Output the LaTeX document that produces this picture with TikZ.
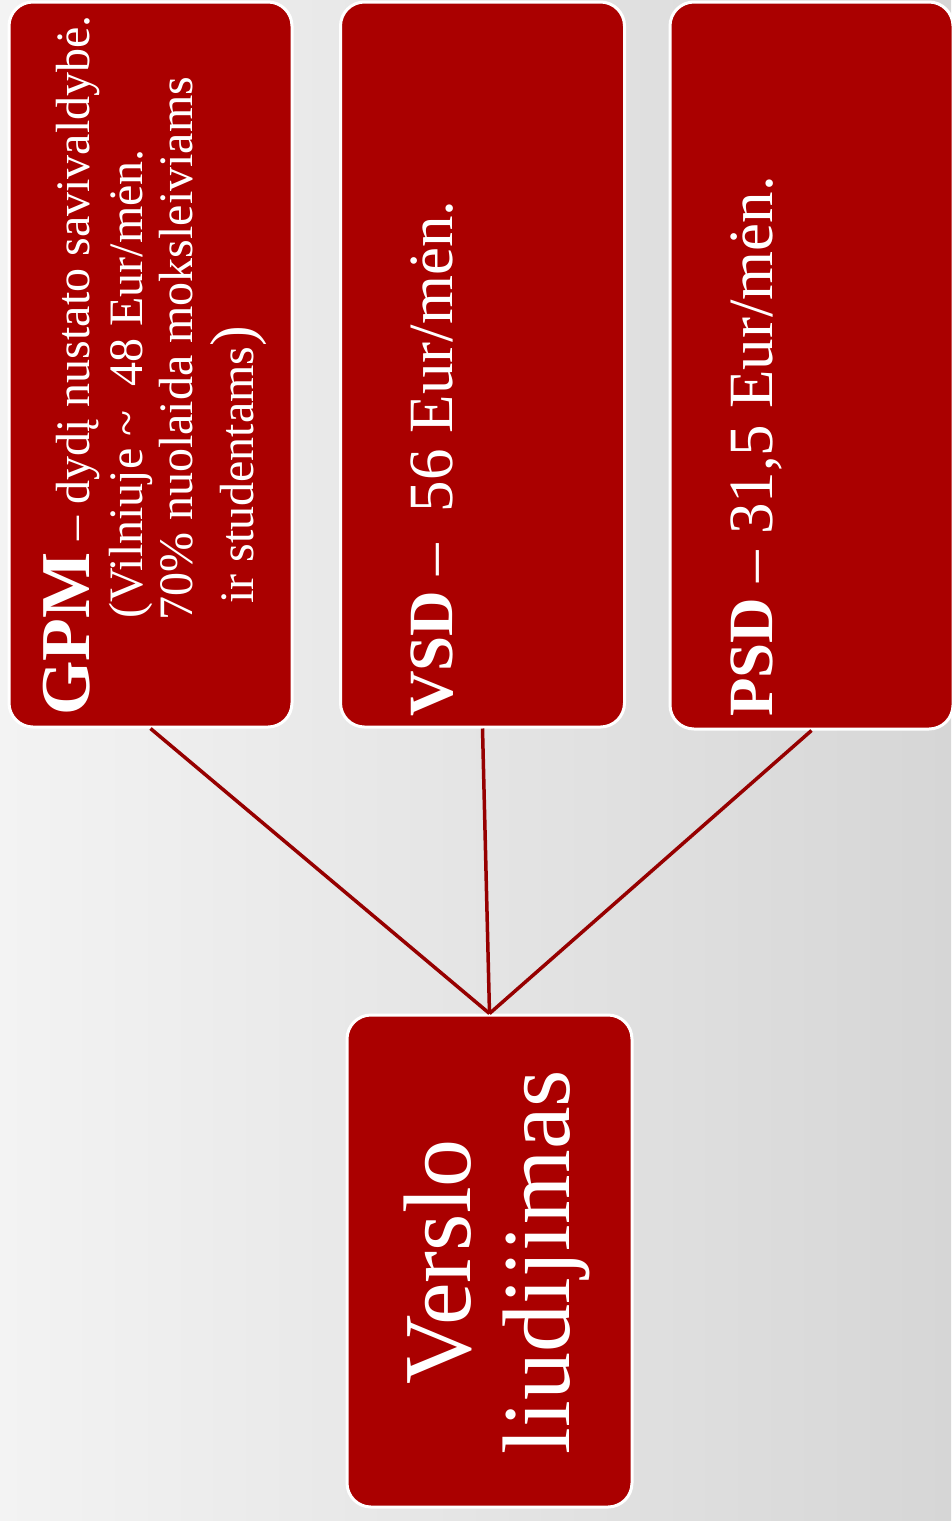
\documentclass[tikz,border=0pt]{standalone}
\usepackage{fontspec}
\setmainfont{Liberation Serif}
\definecolor{boxred}{RGB}{170,0,0}
\definecolor{linered}{RGB}{150,0,0}
\definecolor{bgleft}{RGB}{243,243,243}
\definecolor{bgright}{RGB}{214,214,214}
\begin{document}
\begin{tikzpicture}[x=1pt,y=-1pt,
  box/.style={draw=white, line width=3pt, fill=boxred, rounded corners=24pt, inner sep=0pt},
  conn/.style={draw=linered, line width=3.5pt},
  txt/.style={rotate=90, text=white, inner sep=0pt, anchor=base west, font=\fontsize{48}{54}\selectfont},
  mid/.style={rotate=90, text=white, inner sep=0pt, anchor=base west, font=\fontsize{63}{70}\selectfont},
  big/.style={rotate=90, text=white, inner sep=0pt, anchor=base, font=\fontsize{96}{100}\selectfont}]
\useasboundingbox (0,0) rectangle (951,1521);
\shade[left color=bgleft, right color=bgright] (0,0) rectangle (951,1521);
% boxes
\node[box, minimum width=283pt, minimum height=725pt] (gpm) at (150.5,364.5) {};
\node[box, minimum width=284pt, minimum height=725pt] (vsd) at (482.5,364.5) {};
\node[box, minimum width=283pt, minimum height=727pt] (psd) at (811.5,365.5) {};
\node[box, minimum width=285pt, minimum height=492pt] (root) at (489.5,1261) {};
% connectors
\draw[conn] (gpm.south) -- (root.north);
\draw[conn] (vsd.south) -- (root.north);
\draw[conn] (psd.south) -- (root.north);
% texts
\node[txt] (g1) at (89,716) {{\fontsize{70}{70}\selectfont\bfseries GPM} – dydį nustato savivaldybė.};
\node[txt] (g2) at (142,619) {(Vilniuje \textasciitilde\ \ 48 Eur/mėn.};
\node[txt] (g3) at (192,621) {70\% nuolaida moksleiviams};
\node[txt] (g4) at (253,604) {ir studentams{\fontsize{62}{62}\selectfont)}};
\node[mid] (v1) at (452,717) {\textbf{VSD} –\ \ 56 Eur/mėn.};
\node[mid] (p1) at (772,717) {\textbf{PSD} – 31,5 Eur/mėn.};
\node[big] (r1) at (470,1262) {Verslo};
\node[big] (r2) at (569,1262) {liudijimas};
\end{tikzpicture}
\end{document}
